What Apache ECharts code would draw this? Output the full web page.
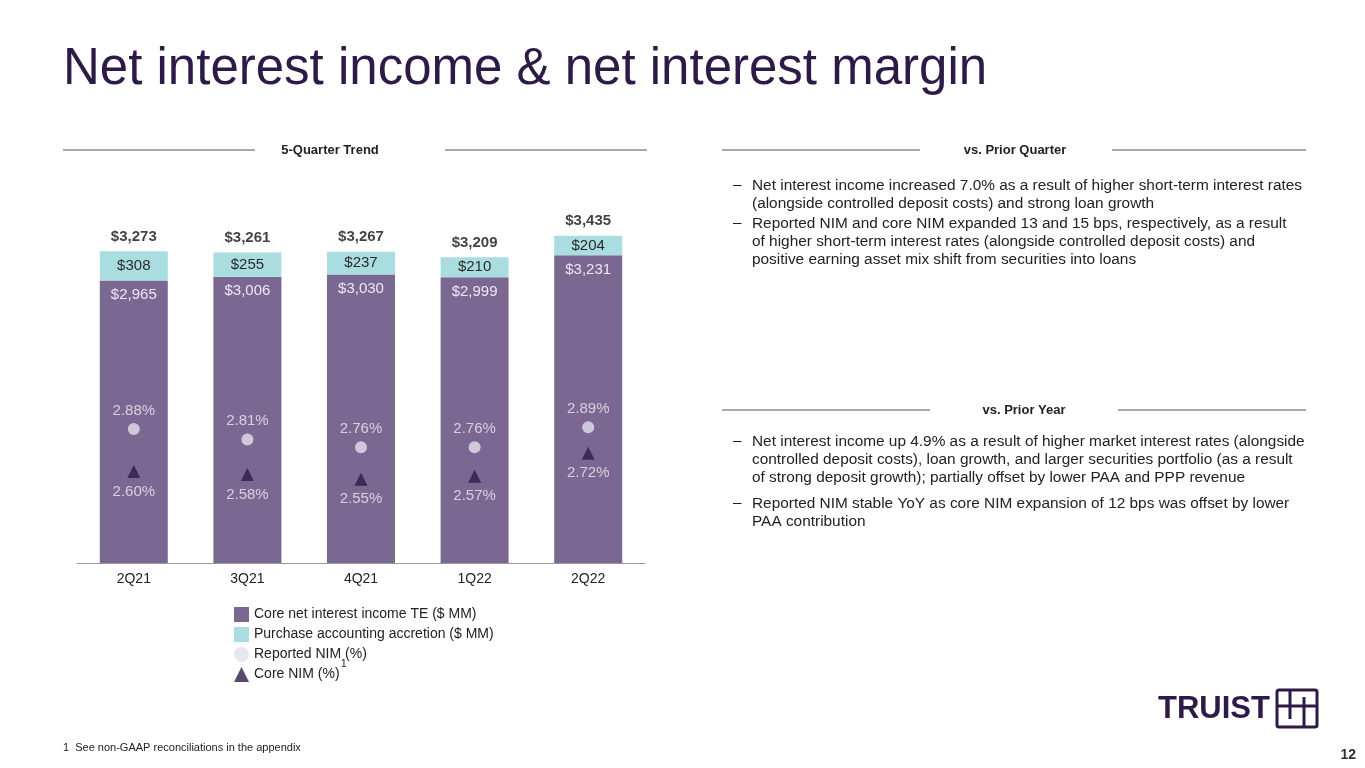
<!DOCTYPE html>
<html>
<head>
    <meta charset="utf-8">
    <title>Net interest income & net interest margin</title>
    <script src="https://cdn.jsdelivr.net/npm/echarts@6/dist/echarts.min.js"></script>
    <style>
        html, body { margin: 0; padding: 0; background: #fff; }
    </style>
</head>
<body>
    <div id="main" style="width: 1365px;height:768px;"></div>
    <script type="text/javascript">
    var quarters = ['2Q21', '3Q21', '4Q21', '1Q22', '2Q22'];
    var coreNii = [2965, 3006, 3030, 2999, 3231];
    var paa = [308, 255, 237, 210, 204];
    var reportedNim = [2.88, 2.81, 2.76, 2.76, 2.89];
    var coreNim = [2.60, 2.58, 2.55, 2.57, 2.72];
    var totals = coreNii.map(function (v, i) { return v + paa[i]; });

    var prevQuarterText = 'Net interest income increased 7.0% as a result of higher short-term interest rates\n(alongside controlled deposit costs) and strong loan growth';
    var prevQuarterText2 = 'Reported NIM and core NIM expanded 13 and 15 bps, respectively, as a result\nof higher short-term interest rates (alongside controlled deposit costs) and\npositive earning asset mix shift from securities into loans';
    var prevYearText = 'Net interest income up 4.9% as a result of higher market interest rates (alongside\ncontrolled deposit costs), loan growth, and larger securities portfolio (as a result\nof strong deposit growth); partially offset by lower PAA and PPP revenue';
    var prevYearText2 = 'Reported NIM stable YoY as core NIM expansion of 12 bps was offset by lower\nPAA contribution';

    var DARK = '#2e1a47';
    var FONT = '"Liberation Sans", Arial, sans-serif';

    var myChart = echarts.init(document.getElementById('main'));

    function money(v) {
        return '$' + v.toLocaleString('en-US');
    }

    function header(text, cx, y, l1, l2, r1, r2) {
        return [
            { type: 'line', shape: { x1: l1, y1: y, x2: l2, y2: y }, style: { stroke: '#555', lineWidth: 1 } },
            { type: 'line', shape: { x1: r1, y1: y, x2: r2, y2: y }, style: { stroke: '#555', lineWidth: 1 } },
            { type: 'text', x: cx, y: y, style: { text: text, font: 'bold 13px ' + FONT, fill: '#222', textAlign: 'center', textVerticalAlign: 'middle' } }
        ];
    }

    function bullet(text, y) {
        return [
            { type: 'text', x: 733, y: y, style: { text: '–', font: '15.4px ' + FONT, fill: '#222', textVerticalAlign: 'top' } },
            { type: 'text', x: 752, y: y, style: { text: text, font: '15.4px ' + FONT, fill: '#222', lineHeight: 18, textVerticalAlign: 'top' } }
        ];
    }

    var graphics = [
        { type: 'text', x: 63, y: 70, style: { text: 'Net interest income & net interest margin', font: '51px ' + FONT, fill: DARK, textVerticalAlign: 'middle' } },
        { type: 'text', x: 63, y: 748, style: { text: '1  See non-GAAP reconciliations in the appendix', font: '11px ' + FONT, fill: '#222', textVerticalAlign: 'middle' } },
        { type: 'text', x: 1356, y: 755, style: { text: '12', font: 'bold 14px ' + FONT, fill: '#333', textAlign: 'right', textVerticalAlign: 'middle' } },
        // legend footnote mark
        { type: 'text', x: 341, y: 664, style: { text: '1', font: '10px ' + FONT, fill: '#222', textVerticalAlign: 'middle' } },
        // logo
        { type: 'text', x: 1158, y: 709, style: { text: 'TRUIST', font: 'bold 31px ' + FONT, fill: DARK, textVerticalAlign: 'middle' } },
        { type: 'rect', shape: { x: 1277, y: 690, width: 40, height: 37, r: 2 }, style: { fill: 'none', stroke: DARK, lineWidth: 3 } },
        { type: 'line', shape: { x1: 1290, y1: 690, x2: 1290, y2: 719 }, style: { stroke: DARK, lineWidth: 3 } },
        { type: 'line', shape: { x1: 1277, y1: 706, x2: 1317, y2: 706 }, style: { stroke: DARK, lineWidth: 3 } },
        { type: 'line', shape: { x1: 1304, y1: 697, x2: 1304, y2: 727 }, style: { stroke: DARK, lineWidth: 3 } }
    ];
    graphics = graphics
        .concat(header('5-Quarter Trend', 330, 150, 63, 255, 445, 647))
        .concat(header('vs. Prior Quarter', 1015, 150, 722, 920, 1112, 1306))
        .concat(header('vs. Prior Year', 1024, 410, 722, 930, 1118, 1306))
        .concat(bullet(prevQuarterText, 177))
        .concat(bullet(prevQuarterText2, 215))
        .concat(bullet(prevYearText, 433))
        .concat(bullet(prevYearText2, 495));

    var option = {
        animation: false,
        textStyle: { fontFamily: FONT },
        graphic: graphics,
        legend: {
            orient: 'vertical',
            left: 229,
            top: 602,
            itemWidth: 15,
            itemHeight: 15,
            itemGap: 5,
            textStyle: { fontSize: 14, color: '#222', fontFamily: FONT },
            data: [
                { name: 'Core net interest income TE ($ MM)', icon: 'rect' },
                { name: 'Purchase accounting accretion ($ MM)', icon: 'rect' },
                { name: 'Reported NIM (%)', icon: 'circle', itemStyle: { color: '#e3e0ec' } },
                { name: 'Core NIM (%)', icon: 'triangle' }
            ]
        },
        grid: { left: 77, right: 720, top: 182, bottom: 205 },
        xAxis: {
            type: 'category',
            data: quarters,
            axisLine: { lineStyle: { color: '#999', width: 1 } },
            axisTick: { show: false },
            axisLabel: { fontSize: 14, color: '#222', margin: 9 }
        },
        yAxis: [
            { type: 'value', min: 0, max: 4000, show: false },
            { type: 'value', min: 2.0, max: 4.5, show: false }
        ],
        series: [
            {
                name: 'Core net interest income TE ($ MM)',
                type: 'bar',
                stack: 'nii',
                barWidth: 68,
                data: coreNii,
                itemStyle: { color: '#7b6892' },
                label: {
                    show: true,
                    position: 'insideTop',
                    distance: 7,
                    fontSize: 15,
                    color: '#ece8f2',
                    formatter: function (p) { return money(p.value); }
                }
            },
            {
                name: 'Purchase accounting accretion ($ MM)',
                type: 'bar',
                stack: 'nii',
                barWidth: 68,
                data: paa,
                itemStyle: { color: '#a9dde0' },
                label: {
                    show: true,
                    position: 'inside',
                    fontSize: 15,
                    color: '#2a2a2a',
                    formatter: function (p) { return money(p.value); }
                }
            },
            {
                name: 'Total',
                type: 'scatter',
                data: totals,
                symbolSize: 0,
                silent: true,
                label: {
                    show: true,
                    position: 'top',
                    distance: 7,
                    fontSize: 15,
                    fontWeight: 'bold',
                    color: '#111',
                    formatter: function (p) { return money(p.value); }
                }
            },
            {
                name: 'Reported NIM (%)',
                type: 'scatter',
                yAxisIndex: 1,
                data: reportedNim,
                symbol: 'circle',
                symbolSize: 12,
                itemStyle: { color: '#e3e0ec' },
                label: {
                    show: true,
                    position: 'top',
                    distance: 5,
                    fontSize: 15,
                    color: '#ece8f2',
                    formatter: function (p) { return p.value.toFixed(2) + '%'; }
                }
            },
            {
                name: 'Core NIM (%)',
                type: 'scatter',
                yAxisIndex: 1,
                data: coreNim,
                symbol: 'triangle',
                symbolSize: 13,
                itemStyle: { color: DARK },
                label: {
                    show: true,
                    position: 'bottom',
                    distance: 6,
                    fontSize: 15,
                    color: '#ece8f2',
                    formatter: function (p) { return p.value.toFixed(2) + '%'; }
                }
            }
        ]
    };

    myChart.setOption(option);
    </script>
</body>
</html>
